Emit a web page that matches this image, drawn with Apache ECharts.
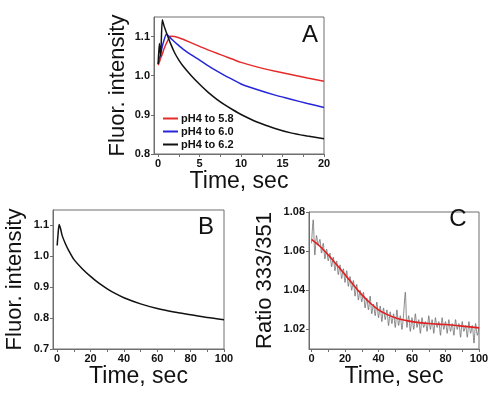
<!DOCTYPE html>
<html>
<head>
<meta charset="UTF-8">
<script src="https://cdn.jsdelivr.net/npm/echarts@6/dist/echarts.min.js"></script>
<style>
  html, body { margin: 0; padding: 0; background: #fff; }
  #main { width: 492px; height: 397px; }
</style>
</head>
<body>
<div id="main"></div>
<script>
// panel A: pH jump traces
var tA = [0, 0.15, 0.3, 0.5, 0.7, 1.0, 1.5, 2, 2.5, 3, 4, 5, 6, 7, 8, 9, 10, 12, 14, 16, 18, 20];
var ph58 = [1.027, 1.035, 1.045, 1.055, 1.068, 1.083, 1.101, 1.100, 1.097, 1.093, 1.084, 1.075, 1.066, 1.058, 1.050, 1.042, 1.034, 1.022, 1.012, 1.003, 0.994, 0.986];
var ph60 = [1.030, 1.045, 1.055, 1.075, 1.090, 1.106, 1.096, 1.086, 1.077, 1.068, 1.053, 1.040, 1.026, 1.013, 1.001, 0.990, 0.979, 0.964, 0.951, 0.940, 0.929, 0.919];
var ph62 = [1.030, 1.082, 1.050, 1.143, 1.128, 1.110, 1.082, 1.058, 1.040, 1.025, 1.000, 0.978, 0.958, 0.941, 0.926, 0.913, 0.901, 0.881, 0.866, 0.854, 0.846, 0.839];
var namesA = ['pH4 to 5.8', 'pH4 to 6.0', 'pH4 to 6.2'];

// panel B: long trace
var tB = [0, 0.5, 1.2, 2, 3, 5, 7, 10, 15, 20, 25, 30, 35, 40, 50, 60, 70, 80, 90, 100];
var vB = [1.035, 1.070, 1.103, 1.090, 1.067, 1.040, 1.018, 0.990, 0.960, 0.935, 0.913, 0.895, 0.879, 0.866, 0.846, 0.831, 0.820, 0.811, 0.802, 0.795];

// panel C: ratio, raw (1 s samples) and fit
var vRaw = [1.064, 1.076, 1.058, 1.068, 1.063, 1.066, 1.059, 1.064, 1.056, 1.061,
            1.055, 1.059, 1.052, 1.057, 1.050, 1.055, 1.048, 1.053, 1.046, 1.051,
            1.044, 1.050, 1.042, 1.047, 1.040, 1.045, 1.037, 1.043, 1.035, 1.040,
            1.034, 1.039, 1.031, 1.036, 1.030, 1.037, 1.028, 1.033, 1.027, 1.034,
            1.026, 1.032, 1.024, 1.031, 1.025, 1.030, 1.022, 1.029, 1.023, 1.028,
            1.021, 1.030, 1.022, 1.027, 1.020, 1.028, 1.039, 1.021, 1.027, 1.019,
            1.026, 1.020, 1.028, 1.021, 1.025, 1.018, 1.026, 1.021, 1.024, 1.019,
            1.027, 1.020, 1.025, 1.018, 1.026, 1.021, 1.024, 1.017, 1.026, 1.020,
            1.024, 1.018, 1.025, 1.019, 1.023, 1.017, 1.025, 1.020, 1.023, 1.016,
            1.024, 1.019, 1.022, 1.016, 1.024, 1.018, 1.022, 1.013, 1.023, 1.017,
            1.021];
var tFit = [0, 5, 10, 15, 20, 25, 30, 35, 40, 45, 50, 55, 60, 70, 80, 90, 100];
var vFit = [1.066, 1.0625, 1.058, 1.053, 1.048, 1.0428, 1.0378, 1.0335, 1.030, 1.0277, 1.026, 1.0248, 1.024, 1.023, 1.0225, 1.0217, 1.0208];

// tick labels
var xTicksA = [0, 5, 10, 15, 20];
var xMinorA = [0, 2.5, 5, 7.5, 10, 12.5, 15, 17.5, 20];
var yTicksA = [0.8, 0.9, 1.0, 1.1];
var xTicksBC = [0, 20, 40, 60, 80, 100];
var xMinorBC = [0, 10, 20, 30, 40, 50, 60, 70, 80, 90, 100];
var yTicksB = [0.7, 0.8, 0.9, 1.0, 1.1];
var yTicksC = [1.02, 1.04, 1.06, 1.08];

function pairs(xs, ys) {
    var out = [];
    for (var i = 0; i < xs.length; i++) out.push([xs[i], ys[i]]);
    return out;
}
var tRaw = [];
for (var i = 0; i < vRaw.length; i++) tRaw.push(i);

var FONT = "'Liberation Sans', Arial, sans-serif";
var AX = '#6e6e6e';

function xAxisOf(idx, min, max, labels, ticks) {
    return {
        type: 'value', gridIndex: idx, min: min, max: max,
        name: 'Time, sec', nameLocation: 'middle', nameGap: 15,
        nameTextStyle: { fontFamily: FONT, fontSize: 23, color: '#111' },
        splitLine: { show: false },
        axisLine: { onZero: false, lineStyle: { color: AX, width: 1 } },
        axisTick: { customValues: ticks, length: 3, lineStyle: { color: AX } },
        axisLabel: { customValues: labels, margin: 4, fontFamily: FONT, fontSize: 11, fontWeight: 'bold', color: '#111' }
    };
}
function yAxisOf(idx, min, max, labels, name, gap, digits) {
    return {
        type: 'value', gridIndex: idx, min: min, max: max,
        name: name, nameLocation: 'middle', nameGap: gap,
        nameTextStyle: { fontFamily: FONT, fontSize: 22, color: '#111' },
        splitLine: { show: false },
        axisLine: { onZero: false, lineStyle: { color: AX, width: 1 } },
        axisTick: { customValues: labels, length: 3, lineStyle: { color: AX } },
        axisLabel: {
            customValues: labels, margin: 4, fontFamily: FONT, fontSize: 11, fontWeight: 'bold', color: '#111',
            formatter: function (v) { return v.toFixed(digits); }
        }
    };
}
function line(name, x, y, data, color, width) {
    return {
        name: name, type: 'line', xAxisIndex: x, yAxisIndex: y, data: data,
        showSymbol: false, smooth: 0.25, animation: false,
        lineStyle: { color: color, width: width }, itemStyle: { color: color }
    };
}

var myChart = echarts.init(document.getElementById('main'));
var option = {
    backgroundColor: '#fff',
    animation: false,
    grid: [
        { left: 154, top: 17, width: 170, height: 137, show: true, borderColor: AX, borderWidth: 1 },
        { left: 53, top: 210, width: 171, height: 139, show: true, borderColor: AX, borderWidth: 1 },
        { left: 309, top: 212, width: 170, height: 137, show: true, borderColor: AX, borderWidth: 1 }
    ],
    xAxis: [
        xAxisOf(0, -0.5, 20, xTicksA, xMinorA),
        xAxisOf(1, -2.5, 100, xTicksBC, xMinorBC),
        xAxisOf(2, -1.5, 100, xTicksBC, xMinorBC)
    ],
    yAxis: [
        yAxisOf(0, 0.8, 1.15, yTicksA, 'Fluor. intensity', 25, 1),
        yAxisOf(1, 0.7, 1.15, yTicksB, 'Fluor. intensity', 27, 1),
        yAxisOf(2, 1.01, 1.08, yTicksC, 'Ratio 333/351', 33, 2)
    ],
    legend: {
        data: namesA, orient: 'vertical', left: 158, top: 108,
        icon: 'rect', itemWidth: 15, itemHeight: 2, itemGap: 2,
        textStyle: { fontFamily: FONT, fontSize: 11, fontWeight: 'bold', color: '#111', padding: [0, 0, 0, -2] }
    },
    graphic: [
        { type: 'text', x: 310, y: 35, style: { text: 'A', font: '24px ' + FONT, fill: '#111', align: 'center', verticalAlign: 'middle' } },
        { type: 'text', x: 206, y: 227, style: { text: 'B', font: '24px ' + FONT, fill: '#111', align: 'center', verticalAlign: 'middle' } },
        { type: 'text', x: 458, y: 219, style: { text: 'C', font: '24px ' + FONT, fill: '#111', align: 'center', verticalAlign: 'middle' } }
    ],
    series: [
        line(namesA[0], 0, 0, pairs(tA, ph58), '#e52a2a', 1.5),
        line(namesA[1], 0, 0, pairs(tA, ph60), '#2626d9', 1.5),
        line(namesA[2], 0, 0, pairs(tA, ph62), '#111111', 1.5),
        line('B', 1, 1, pairs(tB, vB), '#111111', 1.5),
        line('raw', 2, 2, pairs(tRaw, vRaw), '#5a5a5a', 0.7),
        line('fit', 2, 2, pairs(tFit, vFit), '#e02020', 1.6)
    ]
};
myChart.setOption(option, true);
</script>
</body>
</html>
